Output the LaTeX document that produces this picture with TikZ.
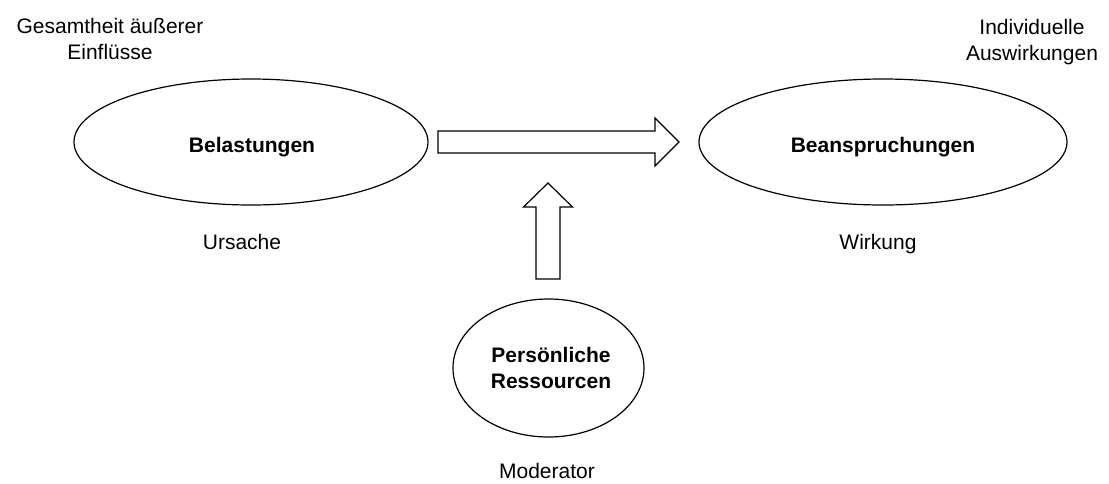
\documentclass[tikz,border=0pt]{standalone}
\usepackage{fontspec}
\setmainfont{Liberation Sans}
\usetikzlibrary{shapes.geometric,calc}
\begin{document}
\begin{tikzpicture}[x=1pt,y=-1pt,
  every node/.style={inner sep=0pt, outer sep=0pt},
  oval/.style={draw=black, line width=1.2pt, ellipse, fill=white},
  lbl/.style={font=\fontsize{21}{26}\selectfont, align=center},
  boldlbl/.style={align=center, font=\fontsize{21}{26}\selectfont\bfseries},
  blockarrow/.style={draw=black, line width=1.2pt, fill=white, line join=miter}]
\useasboundingbox[fill=white] (0,0) rectangle (1109,483);

% the three ovals
\node[oval, minimum width=354, minimum height=126] (bel) at (251,142) {};
\node[oval, minimum width=368, minimum height=126] (bea) at (883,142) {};
\node[oval, minimum width=191, minimum height=138] (res) at (548.5,368) {};

% texts inside the ovals
\node[boldlbl, anchor=base] (belT) at (252,152) {Belastungen};
\node[boldlbl, anchor=base] (beaT) at (883,152) {Beanspruchungen};
\node[boldlbl] (resT) at (551,368) {Persönliche\\Ressourcen};

% captions
\node[lbl, anchor=north] (ext) at (110,18) {Gesamtheit äußerer\\Einflüsse};
\node[lbl, anchor=north] (ind) at (1032,19) {Individuelle\\Auswirkungen};
\node[lbl, anchor=base] (urs) at (242,249) {Ursache};
\node[lbl, anchor=base] (wir) at (878,249) {Wirkung};
\node[lbl, anchor=base] (mod) at (547,478) {Moderator};

% block arrow from cause to effect
\coordinate (hA) at ($(bel.east)+(10,0)$);
\coordinate (hB) at ($(bea.west)+(-20,0)$);
\draw[blockarrow] ($(hA)+(0,-11)$) -- ($(hB)+(-24,-11)$) -- ($(hB)+(-24,-24)$)
  -- (hB) -- ($(hB)+(-24,24)$) -- ($(hB)+(-24,11)$) -- ($(hA)+(0,11)$) -- cycle;

% block arrow from the moderator upwards
\coordinate (vA) at ($(res.north)+(-0.5,-20)$);
\coordinate (vB) at ($(vA)+(0,-96)$);
\draw[blockarrow] ($(vA)+(-12,0)$) -- ($(vB)+(-12,24)$) -- ($(vB)+(-24.5,24)$)
  -- (vB) -- ($(vB)+(24.5,24)$) -- ($(vB)+(12,24)$) -- ($(vA)+(12,0)$) -- cycle;
\end{tikzpicture}
\end{document}
